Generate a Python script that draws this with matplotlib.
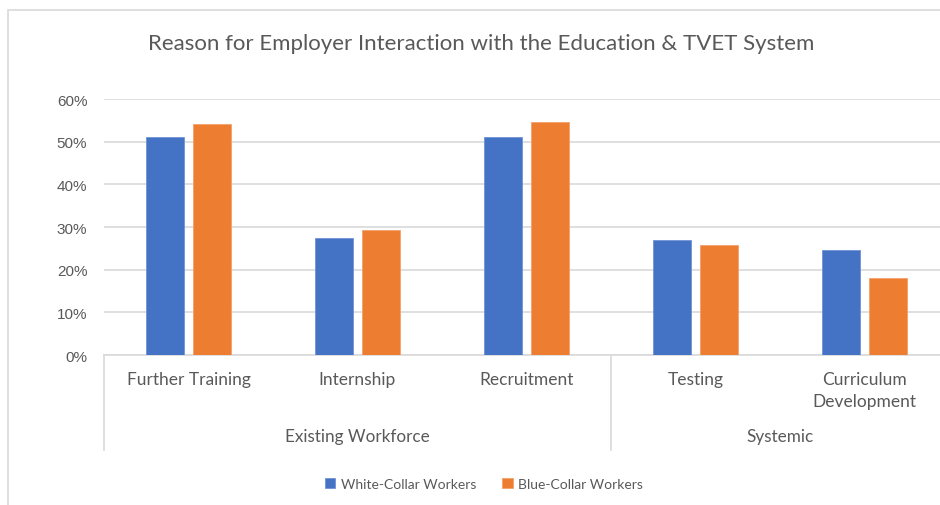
import numpy as np
import matplotlib.pyplot as plt
from matplotlib.patches import Rectangle
from matplotlib.transforms import blended_transform_factory

# Data
categories = ['Further Training', 'Internship', 'Recruitment', 'Testing', 'Curriculum\nDevelopment']
groups = ['Existing Workforce', 'Systemic']
group_spans = [(0, 2), (3, 4)]
white_collar = [0.51, 0.274, 0.51, 0.27, 0.245]
blue_collar = [0.542, 0.293, 0.546, 0.257, 0.18]
series_names = ['White-Collar Workers', 'Blue-Collar Workers']
y_ticks = [0, 0.1, 0.2, 0.3, 0.4, 0.5, 0.6]

W, H = 940, 506
txt = '#595959'
grid = '#d9d9d9'
cal = ['Lato', 'DejaVu Sans']

fig = plt.figure(figsize=(W / 100, H / 100), dpi=100)
ax = fig.add_axes([104 / W, 1 - 356 / H, (949 - 104) / W, 256 / H])

x = np.arange(len(categories))
bw = 0.22
off = 0.139
ax.bar(x - off, white_collar, bw, color='#4472C4', edgecolor='#6f93d6', linewidth=0.6, zorder=3, label=series_names[0])
ax.bar(x + off, blue_collar, bw, color='#ED7D31', edgecolor='#f4a06a', linewidth=0.6, zorder=3, label=series_names[1])

ax.set_xlim(-0.5, len(categories) - 0.5)
ax.set_ylim(0, 0.6)
ax.set_yticks(y_ticks)
ax.set_yticklabels([f'{int(round(v * 100))}%' for v in y_ticks], family='Liberation Sans', fontsize=11, color=txt)
ax.tick_params(axis='y', length=0, pad=12)
ax.set_xticks([])
ax.grid(axis='y', color=grid, linewidth=1.2, zorder=0)
for s in ['top', 'right', 'left']:
    ax.spines[s].set_visible(False)
ax.spines['bottom'].set_color(grid)
ax.spines['bottom'].set_linewidth(1.2)

# multi-level category axis
tr = blended_transform_factory(ax.transData, fig.transFigure)
for i, c in enumerate(categories):
    ax.text(i, 1 - 372 / H, c, transform=tr, ha='center', va='top', fontsize=12.5,
            color=txt, family=cal, linespacing=1.5)
for g, (a, b) in zip(groups, group_spans):
    ax.text((a + b) / 2, 1 - 437 / H, g, transform=tr, ha='center', va='center',
            fontsize=12.3, color=txt, family=cal)
for xs in [-0.5, 2.5, 4.5]:
    ax.plot([xs, xs], [1 - 356 / H, 1 - 451 / H], transform=tr, color=grid,
            linewidth=1.2, clip_on=False)

# title
fig.text(481 / W, 1 - 44 / H, 'Reason for Employer Interaction with the Education & TVET System',
         ha='center', va='center', fontsize=16, color=txt, family=cal)

# legend
fig.legend(loc='center', bbox_to_anchor=(484 / W, 1 - 485 / H), ncol=2, frameon=False,
           prop={'family': cal, 'size': 10}, labelcolor=txt, handlelength=0.75,
           handleheight=0.75, handletextpad=0.4, columnspacing=1.9)

# outer chart border
fig.patches.append(Rectangle((8 / W, -0.1), 1.2, 1.1 - 11 / H, transform=fig.transFigure,
                             fill=False, edgecolor=grid, linewidth=1.2))

fig.savefig('out.png', dpi=100)
